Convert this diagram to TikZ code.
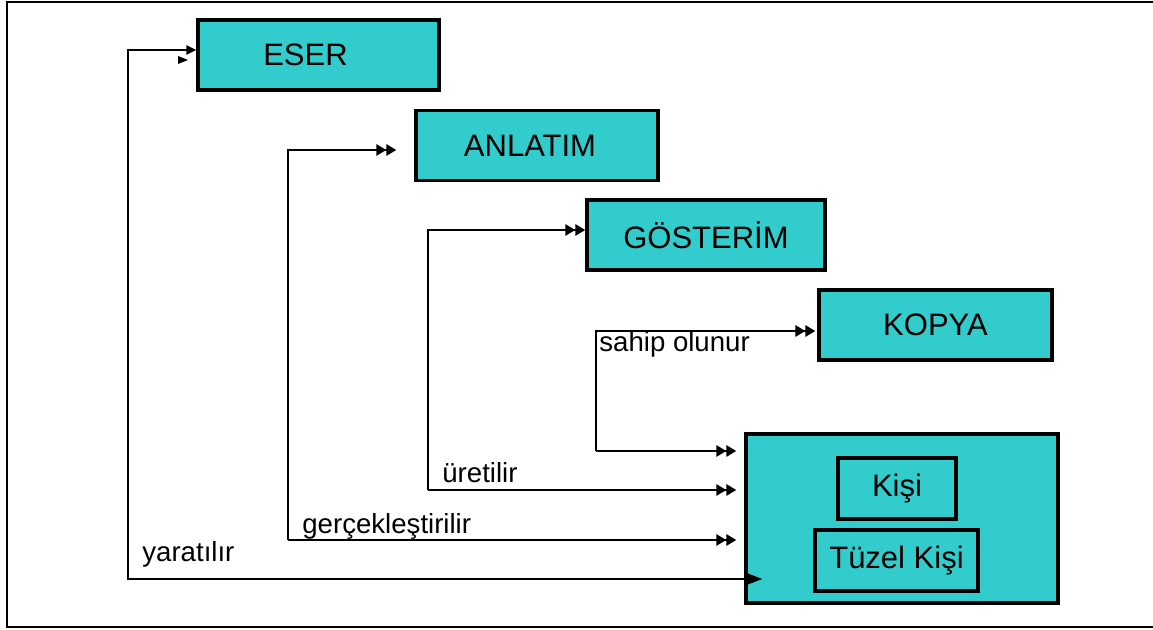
\documentclass[tikz,border=0pt]{standalone}
\usepackage{fontspec}
\setmainfont{Liberation Sans}
\usepackage{tikz}
\usetikzlibrary{arrows.meta,calc,positioning}
\definecolor{boxcyan}{HTML}{33CCCC}
\tikzset{
	box/.style 2 args={draw, line width=1.6pt, fill=boxcyan, inner sep=0pt,
		minimum width=#1*0.5pt, minimum height=#2*0.5pt, font=\fontsize{15.5}{18}\selectfont},
	wire/.style={line width=1.35pt},
	tip/.style={-{Triangle[length=5pt,width=5.5pt]Triangle[length=5pt,width=5.5pt]}},
	lbl/.style={anchor=base west, inner sep=0pt, font=\fontsize{13.8}{16}\selectfont}
}

\begin{document}
\begin{tikzpicture}[x=0.5pt, y=-0.5pt]
  \useasboundingbox (0,0) rectangle (1153,630);
  % frame
  \draw[line width=1.1pt] (1160,2) -- (7,2) -- (7,627) -- (1160,627);

  \node[box={241}{70}] (eser) at (318.5,55) {\hspace*{-13pt}ESER};
  \node[box={242}{70}] (anlatim) at (537,145.5) {\hspace*{-7pt}ANLATIM};
  \node[box={238}{70}] (gosterim) at (706,235) {GÖSTERİM};
  \node[box={233}{70}] (kopya) at (935.5,325) {KOPYA};
  \node[box={312}{169}] (kisiler) at (902,518.5) {};
  \node[box={118}{61}] (kisi) at (897,488.5) {Kişi};
  \node[box={163}{61}] (tuzel) at (896.5,560.5) {Tüzel Kişi};

  % bends
  \coordinate (yaratTop) at (128,50);
  \coordinate (yaratBot) at (128,579);
  \coordinate (gercTop) at (288,150);
  \coordinate (gercBot) at (288,540);
  \coordinate (uretTop) at (428,230);
  \coordinate (uretBot) at (428,490);
  \coordinate (sahipTop) at (596,331);
  \coordinate (sahipBot) at (596,451);

  \draw[wire, {Triangle[length=5pt,width=4.5pt]}-{Triangle[length=9pt,width=6.5pt]}]
        (eser.west |- yaratTop) -- (yaratTop) -- (yaratBot) -- ([xshift=9]yaratBot -| kisiler.west);
  \fill (178,56) -- (188,60) -- (178,64) -- cycle;
  \draw[wire, tip] (gercBot) -- ([xshift=-4]gercBot -| kisiler.west);
  \draw[wire, tip] (gercBot) -- (gercTop) -- ([xshift=-9]gercTop -| anlatim.west);
  \draw[wire, tip] (uretBot) -- ([xshift=-4]uretBot -| kisiler.west);
  \draw[wire, tip] (uretBot) -- (uretTop) -- (uretTop -| gosterim.west);
  \draw[wire, tip] (sahipBot) -- ([xshift=-4]sahipBot -| kisiler.west);
  \draw[wire, tip] (sahipBot) -- (sahipTop) -- ([xshift=-1]sahipTop -| kopya.west);

  \node[lbl] (yaratLbl) at (142,562) {yaratılır};
  \node[lbl] (gercLbl) at (302,534) {gerçekleştirilir};
  \node[lbl] (uretLbl) at (442,483) {üretilir};
  \node[lbl] (sahipLbl) at (599,352) {sahip olunur};
\end{tikzpicture}
\end{document}
